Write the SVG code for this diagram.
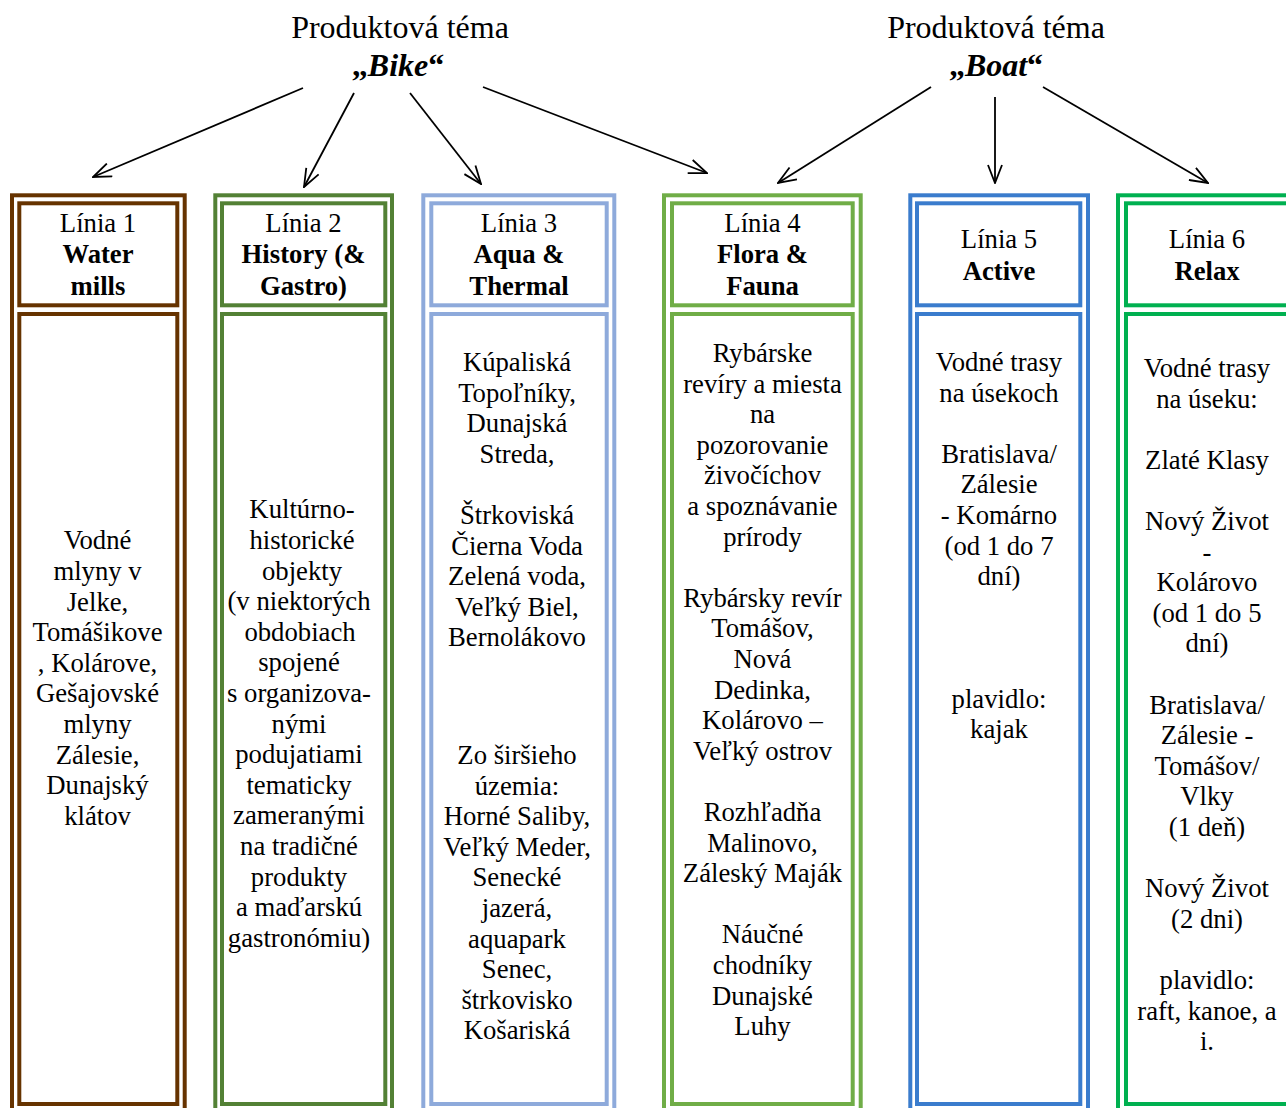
<svg xmlns="http://www.w3.org/2000/svg" width="1286" height="1108" viewBox="0 0 1286 1108">
<defs>
<marker id="arr" markerUnits="userSpaceOnUse" viewBox="0 0 20 16" refX="19" refY="8" markerWidth="20" markerHeight="16" orient="auto">
<path d="M1,1 L19,8 L1,15" fill="none" stroke="#000" stroke-width="1.8"/>
</marker>
<style>
.t{font-family:"Liberation Serif","Times New Roman",serif;font-size:26.7px;text-anchor:middle;fill:#000}
.ti{font-family:"Liberation Serif","Times New Roman",serif;font-size:32px;text-anchor:middle;fill:#000}
.b{font-weight:bold}
.bi{font-weight:bold;font-style:italic}
.box{fill:none;stroke-width:4}
.c1{stroke:#663300}.c2{stroke:#538135}.c3{stroke:#8EAADB}.c4{stroke:#70AD47}.c5{stroke:#3A7CCD}.c6{stroke:#00B050}
.con{stroke:#000;stroke-width:1.8;fill:none;marker-end:url(#arr)}
</style>
</defs>
<rect width="1286" height="1108" fill="#fff"/>

<g id="theme-bike">
<text class="ti" x="400" y="38">Produktová téma</text>
<text class="ti b" x="398" y="76">„<tspan class="bi">Bike</tspan>“</text>
</g>
<g id="theme-boat">
<text class="ti" x="996" y="38">Produktová téma</text>
<text class="ti b" x="996" y="76">„<tspan class="bi">Boat</tspan>“</text>
</g>

<g id="connectors">
<line class="con" x1="303" y1="88" x2="93" y2="177"/>
<line class="con" x1="354" y1="93" x2="304" y2="187"/>
<line class="con" x1="410" y1="93" x2="481" y2="184"/>
<line class="con" x1="483" y1="87" x2="707" y2="173"/>
<line class="con" x1="931" y1="87" x2="778" y2="183"/>
<line class="con" x1="995" y1="97" x2="995" y2="183"/>
<line class="con" x1="1043" y1="87" x2="1208" y2="183"/>
</g>

<g id="linia1">
<rect class="box c1" x="12" y="195.3" width="172.7" height="930"/>
<rect class="box c1" x="19.3" y="203.3" width="158" height="102"/>
<rect class="box c1" x="19.3" y="314" width="158" height="790"/>
<text class="t" x="98" y="231.7">Línia 1<tspan class="b" x="98" dy="31.7">Water</tspan><tspan class="b" x="98" dy="31.7">mills</tspan></text>
<text class="t" y="549.3"><tspan x="97.5">Vodné</tspan><tspan x="97.5" dy="30.6">mlyny v</tspan><tspan x="97.5" dy="30.6">Jelke,</tspan><tspan x="97.5" dy="30.6">Tomášikove</tspan><tspan x="97.5" dy="30.6">, Kolárove,</tspan><tspan x="97.5" dy="30.6">Gešajovské</tspan><tspan x="97.5" dy="30.6">mlyny</tspan><tspan x="97.5" dy="30.6">Zálesie,</tspan><tspan x="97.5" dy="30.6">Dunajský</tspan><tspan x="97.5" dy="30.6">klátov</tspan></text>
</g>

<g id="linia2">
<rect class="box c2" x="215.3" y="195.3" width="176.7" height="930"/>
<rect class="box c2" x="222" y="203.3" width="163.3" height="102"/>
<rect class="box c2" x="222" y="314" width="163.3" height="790"/>
<text class="t" x="303.5" y="231.7">Línia 2<tspan class="b" x="303.5" dy="31.7">History (&amp;</tspan><tspan class="b" x="303.5" dy="31.7">Gastro)</tspan></text>
<text class="t" y="518.3"><tspan x="302">Kultúrno-</tspan><tspan x="302" dy="30.6">historické</tspan><tspan x="302" dy="30.6">objekty</tspan><tspan x="299" dy="30.6">(v niektorých</tspan><tspan x="300" dy="30.6">obdobiach</tspan><tspan x="299" dy="30.6">spojené</tspan><tspan x="299" dy="30.6">s organizova-</tspan><tspan x="299" dy="30.6">nými</tspan><tspan x="299" dy="30.6">podujatiami</tspan><tspan x="299" dy="30.6">tematicky</tspan><tspan x="299" dy="30.6">zameranými</tspan><tspan x="299" dy="30.6">na tradičné</tspan><tspan x="299" dy="30.6">produkty</tspan><tspan x="299" dy="30.6">a maďarskú</tspan><tspan x="299" dy="30.6">gastronómiu)</tspan></text>
</g>

<g id="linia3">
<rect class="box c3" x="423.3" y="195.3" width="191" height="930"/>
<rect class="box c3" x="431.3" y="203.3" width="175.4" height="102"/>
<rect class="box c3" x="431.3" y="314" width="175.4" height="790"/>
<text class="t" x="519" y="231.7">Línia 3<tspan class="b" x="519" dy="31.7">Aqua &amp;</tspan><tspan class="b" x="519" dy="31.7">Thermal</tspan></text>
<text class="t" y="371"><tspan x="517">Kúpaliská</tspan><tspan x="517" dy="30.6">Topoľníky,</tspan><tspan x="517" dy="30.6">Dunajská</tspan><tspan x="517" dy="30.6">Streda,</tspan><tspan x="517" dy="61.2">Štrkoviská</tspan><tspan x="517" dy="30.6">Čierna Voda</tspan><tspan x="517" dy="30.6">Zelená voda,</tspan><tspan x="517" dy="30.6">Veľký Biel,</tspan><tspan x="517" dy="30.6">Bernolákovo</tspan><tspan x="517" dy="117.6">Zo širšieho</tspan><tspan x="517" dy="30.6">územia:</tspan><tspan x="517" dy="30.6">Horné Saliby,</tspan><tspan x="517" dy="30.6">Veľký Meder,</tspan><tspan x="517" dy="30.6">Senecké</tspan><tspan x="517" dy="30.6">jazerá,</tspan><tspan x="517" dy="30.6">aquapark</tspan><tspan x="517" dy="30.6">Senec,</tspan><tspan x="517" dy="30.6">štrkovisko</tspan><tspan x="517" dy="30.6">Košariská</tspan></text>
</g>

<g id="linia4">
<rect class="box c4" x="664" y="195.3" width="196.7" height="930"/>
<rect class="box c4" x="672" y="203.3" width="180.7" height="102"/>
<rect class="box c4" x="672" y="314" width="180.7" height="790"/>
<text class="t" x="762.5" y="231.7">Línia 4<tspan class="b" x="762.5" dy="31.7">Flora &amp;</tspan><tspan class="b" x="762.5" dy="31.7">Fauna</tspan></text>
<text class="t" y="362"><tspan x="762.5">Rybárske</tspan><tspan x="762.5" dy="30.6">revíry a miesta</tspan><tspan x="762.5" dy="30.6">na</tspan><tspan x="762.5" dy="30.6">pozorovanie</tspan><tspan x="762.5" dy="30.6">živočíchov</tspan><tspan x="762.5" dy="30.6">a spoznávanie</tspan><tspan x="762.5" dy="30.6">prírody</tspan><tspan x="762.5" dy="61.2">Rybársky revír</tspan><tspan x="762.5" dy="30.6">Tomášov,</tspan><tspan x="762.5" dy="30.6">Nová</tspan><tspan x="762.5" dy="30.6">Dedinka,</tspan><tspan x="762.5" dy="30.6">Kolárovo –</tspan><tspan x="762.5" dy="30.6">Veľký ostrov</tspan><tspan x="762.5" dy="61.2">Rozhľadňa</tspan><tspan x="762.5" dy="30.6">Malinovo,</tspan><tspan x="762.5" dy="30.6">Záleský Maják</tspan><tspan x="762.5" dy="61.2">Náučné</tspan><tspan x="762.5" dy="30.6">chodníky</tspan><tspan x="762.5" dy="30.6">Dunajské</tspan><tspan x="762.5" dy="30.6">Luhy</tspan></text>
</g>

<g id="linia5">
<rect class="box c5" x="910.3" y="195.3" width="177.7" height="930"/>
<rect class="box c5" x="917" y="203.3" width="163.3" height="102"/>
<rect class="box c5" x="917" y="314" width="163.3" height="790"/>
<text class="t" x="999" y="248.3">Línia 5<tspan class="b" x="999" dy="31.7">Active</tspan></text>
<text class="t" y="371"><tspan x="999">Vodné trasy</tspan><tspan x="999" dy="30.6">na úsekoch</tspan><tspan x="999" dy="61.2">Bratislava/</tspan><tspan x="999" dy="30.6">Zálesie</tspan><tspan x="999" dy="30.6">- Komárno</tspan><tspan x="999" dy="30.6">(od 1 do 7</tspan><tspan x="999" dy="30.6">dní)</tspan><tspan x="999" dy="122.4">plavidlo:</tspan><tspan x="999" dy="30.6">kajak</tspan></text>
</g>

<g id="linia6">
<rect class="box c6" x="1118" y="195.3" width="190" height="930"/>
<rect class="box c6" x="1126" y="203.3" width="175" height="102"/>
<rect class="box c6" x="1126" y="314" width="175" height="790"/>
<text class="t" x="1207" y="248.3">Línia 6<tspan class="b" x="1207" dy="31.7">Relax</tspan></text>
<text class="t" y="377"><tspan x="1207">Vodné trasy</tspan><tspan x="1207" dy="30.6">na úseku:</tspan><tspan x="1207" dy="61.2">Zlaté Klasy</tspan><tspan x="1207" dy="61.2">Nový Život</tspan><tspan x="1207" dy="30.6">-</tspan><tspan x="1207" dy="30.6">Kolárovo</tspan><tspan x="1207" dy="30.6">(od 1 do 5</tspan><tspan x="1207" dy="30.6">dní)</tspan><tspan x="1207" dy="61.2">Bratislava/</tspan><tspan x="1207" dy="30.6">Zálesie -</tspan><tspan x="1207" dy="30.6">Tomášov/</tspan><tspan x="1207" dy="30.6">Vlky</tspan><tspan x="1207" dy="30.6">(1 deň)</tspan><tspan x="1207" dy="61.2">Nový Život</tspan><tspan x="1207" dy="30.6">(2 dni)</tspan><tspan x="1207" dy="61.2">plavidlo:</tspan><tspan x="1207" dy="30.6">raft, kanoe, a</tspan><tspan x="1207" dy="30.6">i.</tspan></text>
</g>
</svg>
